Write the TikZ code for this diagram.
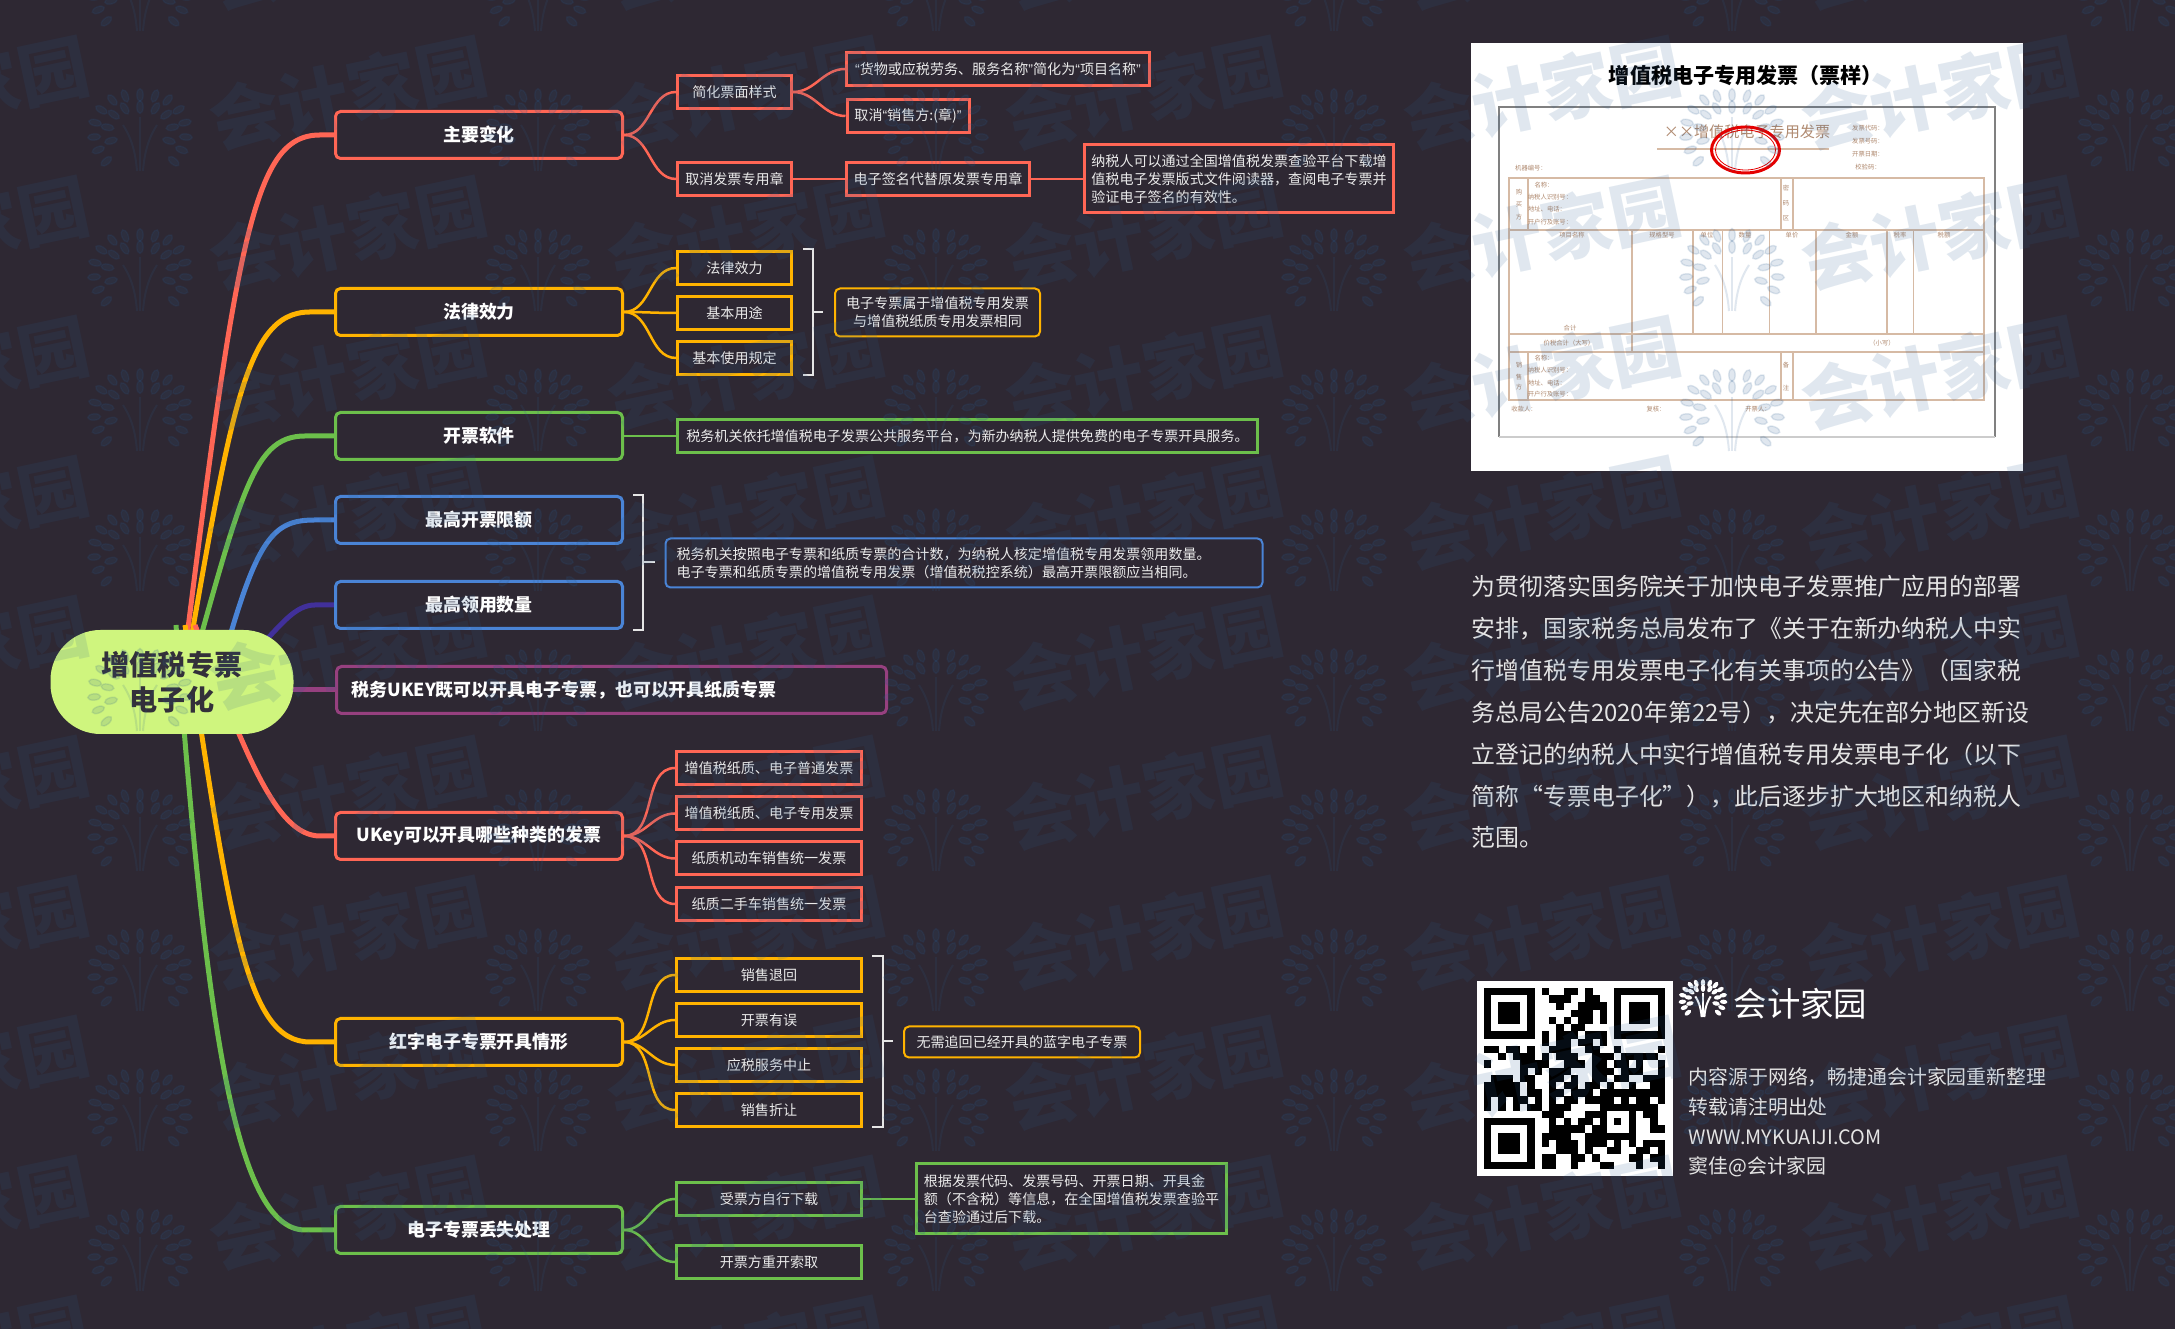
\documentclass[tikz,border=0pt]{standalone}
\usepackage{fontspec}
\setmainfont{Noto Sans CJK SC}
\newfontfamily\quotefont{Liberation Sans}
\usepackage{xcolor}
\usetikzlibrary{backgrounds, positioning, calc}
\definecolor{pagebg}{HTML}{2E2833}
\definecolor{coral}{HTML}{FF6655}
\definecolor{amber}{HTML}{FFB300}
\definecolor{leaf}{HTML}{6CBF4B}
\definecolor{sky}{HTML}{4A84D6}
\definecolor{indigo}{HTML}{41309A}
\definecolor{plum}{HTML}{96407F}
\definecolor{lime}{HTML}{CFF57E}
\definecolor{rootink}{HTML}{33303A}
\definecolor{marine}{HTML}{275A8F}
\definecolor{tan}{HTML}{D6BAA4}
\definecolor{taninkk}{HTML}{B08A70}
\newcommand{\qm}[1]{{\quotefont #1}}
\newcommand{\treemark}[4]{%
  \begin{scope}[shift={(#1,#2)},scale=#3]
    \draw[#4, line width=0.025cm, fill=none] (0,-0.38) -- (0,0.16);
    \draw[#4, line width=0.02cm, fill=none] (-0.03,-0.38) .. controls (-0.05,-0.12) and (-0.12,0) .. (-0.17,0.08);
    \draw[#4, line width=0.02cm, fill=none] (0.03,-0.38) .. controls (0.05,-0.12) and (0.12,0) .. (0.17,0.08);
    \foreach \ang/\rad in {-40/0.44,-22/0.45,-5/0.46,13/0.46,31/0.45,50/0.43,68/0.40,90/0.38,112/0.40,130/0.43,149/0.45,167/0.46,185/0.46,202/0.45,220/0.44,-15/0.30,10/0.33,35/0.32,58/0.29,90/0.26,122/0.29,145/0.32,170/0.33,195/0.30}{
      \fill[#4, shift={(\ang:\rad)}, rotate=\ang] (0,0) ellipse (0.065 and 0.032);
    }
  \end{scope}}

\begin{document}
\begin{tikzpicture}[
  rootbox/.style={
    rectangle, rounded corners=0.5cm, fill=lime, text=rootink,
    minimum width=2.43cm, minimum height=1.04cm, inner sep=0pt,
    font=\fontsize{8}{10}\selectfont\bfseries, align=center
  },
  mainbox/.style={
    rectangle, rounded corners=0.05cm, draw=#1, line width=0.03cm,
    minimum width=2.87cm, minimum height=0.47cm, inner sep=0pt,
    text=white, font=\fontsize{5.1}{6.5}\selectfont\bfseries, align=center
  },
  subbox/.style={
    rectangle, draw=#1, line width=0.03cm,
    minimum width=1.14cm, minimum height=0.33cm, inner sep=0pt,
    text=white!92!black, font=\fontsize{4}{5.2}\selectfont, align=center
  },
  notebox/.style={
    rectangle, rounded corners=0.05cm, draw=#1, line width=0.02cm,
    minimum height=0.31cm, inner sep=0pt,
    text=white!92!black, font=\fontsize{4}{5.2}\selectfont, align=center
  },
  limb/.style={line width=0.05cm, draw=#1},
  twig/.style={line width=0.025cm, draw=#1},
  clasp/.style={line width=0.018cm, draw=white!90!black},
  invlabel/.style={inner sep=0pt, text=taninkk, font=\fontsize{1.8}{2.2}\selectfont},
  invrule/.style={line width=0.012cm, draw=tan},
  footline/.style={inner sep=0pt, anchor=west, text=white!90!black, font=\fontsize{5.65}{7}\selectfont},
  watermark/.style={inner sep=0pt, rotate=12, text=marine, text opacity=0.14, font=\fontsize{20}{20}\selectfont\bfseries},
  wmtree/.style={fill=marine, draw=marine, opacity=0.14},
  logotree/.style={fill=white, draw=white}
]
  \useasboundingbox (0,0) rectangle (21.75,-13.29);

  % central topic and the branches
  \node[rootbox] (root) at (1.72,-6.82) {增值税专票\\电子化};
  \node[mainbox=coral] (mainchange) at (4.79,-1.35) {主要变化};
  \node[mainbox=amber] (mainlaw) at (4.79,-3.12) {法律效力};
  \node[mainbox=leaf] (mainsoft) at (4.79,-4.36) {开票软件};
  \node[mainbox=sky] (mainlimit) at (4.79,-5.20) {最高开票限额};
  \node[mainbox=sky] (mainqty) at (4.79,-6.05) {最高领用数量};
  \node[mainbox=plum, minimum width=5.5cm, align=left, text width=5.2cm] (mainkey) at (6.115,-6.90) {税务UKEY既可以开具电子专票，也可以开具纸质专票};
  \node[mainbox=coral] (mainukey) at (4.79,-8.36) {UKey可以开具哪些种类的发票};
  \node[mainbox=amber] (mainred) at (4.79,-10.42) {红字电子专票开具情形};
  \node[mainbox=leaf] (mainlost) at (4.79,-12.30) {电子专票丢失处理};

  % first branch
  \node[subbox=coral] (simplify) at (7.345,-0.92) {简化票面样式};
  \node[subbox=coral] (noseal) at (7.345,-1.79) {取消发票专用章};
  \node[subbox=coral, minimum width=3.03cm] (goodsname) at (9.98,-0.69) {\qm{“}货物或应税劳务、服务名称\qm{”}简化为\qm{“}项目名称\qm{”}};
  \node[subbox=coral, minimum width=1.22cm] (nochop) at (9.08,-1.16) {取消\qm{“}销售方:(章)\qm{”}};
  \node[subbox=coral, minimum width=1.83cm] (esign) at (9.38,-1.79) {电子签名代替原发票专用章};
  \node[subbox=coral, minimum width=3.09cm, minimum height=0.68cm, align=left] (verify) at (12.39,-1.79) {纳税人可以通过全国增值税发票查验平台下载增\\值税电子发票版式文件阅读器，查阅电子专票并\\验证电子签名的有效性。};

  % second branch
  \node[subbox=amber] (lawforce) at (7.345,-2.68) {法律效力};
  \node[subbox=amber] (lawuse) at (7.345,-3.13) {基本用途};
  \node[subbox=amber] (lawrule) at (7.345,-3.58) {基本使用规定};
  \node[notebox=amber, minimum width=2.05cm, minimum height=0.48cm] (lawnote) at (9.375,-3.125) {电子专票属于增值税专用发票\\与增值税纸质专用发票相同};

  % software and limits
  \node[subbox=leaf, minimum width=5.80cm, align=left] (softnote) at (9.675,-4.36) {税务机关依托增值税电子发票公共服务平台，为新办纳税人提供免费的电子专票开具服务。};
  \node[notebox=sky, minimum width=5.97cm, minimum height=0.49cm, align=left, text width=5.75cm] (limitnote) at (9.64,-5.63) {税务机关按照电子专票和纸质专票的合计数，为纳税人核定增值税专用发票领用数量。\\电子专票和纸质专票的增值税专用发票（增值税税控系统）最高开票限额应当相同。};

  % ukey
  \node[subbox=coral, minimum width=1.85cm] (ukeyone) at (7.69,-7.68) {增值税纸质、电子普通发票};
  \node[subbox=coral, minimum width=1.85cm] (ukeytwo) at (7.69,-8.135) {增值税纸质、电子专用发票};
  \node[subbox=coral, minimum width=1.85cm] (ukeythree) at (7.69,-8.585) {纸质机动车销售统一发票};
  \node[subbox=coral, minimum width=1.85cm] (ukeyfour) at (7.69,-9.04) {纸质二手车销售统一发票};

  % red invoices
  \node[subbox=amber, minimum width=1.85cm] (redone) at (7.69,-9.75) {销售退回};
  \node[subbox=amber, minimum width=1.85cm] (redtwo) at (7.69,-10.20) {开票有误};
  \node[subbox=amber, minimum width=1.85cm] (redthree) at (7.69,-10.65) {应税服务中止};
  \node[subbox=amber, minimum width=1.85cm] (redfour) at (7.69,-11.10) {销售折让};
  \node[notebox=amber, minimum width=2.36cm] (rednote) at (10.22,-10.42) {无需追回已经开具的蓝字电子专票};

  % lost invoices
  \node[subbox=leaf, minimum width=1.85cm] (lostone) at (7.69,-11.99) {受票方自行下载};
  \node[subbox=leaf, minimum width=1.85cm] (losttwo) at (7.69,-12.62) {开票方重开索取};
  \node[subbox=leaf, minimum width=3.10cm, minimum height=0.70cm, align=left] (lostnote) at (10.715,-11.99) {根据发票代码、发票号码、开票日期、开具金\\额（不含税）等信息，在全国增值税发票查验平\\台查验通过后下载。};

  \coordinate (rootup) at (1.76,-7.25);
  \coordinate (rootmid) at (2.15,-6.90);
  \coordinate (rootdown) at (1.76,-6.25);
  \coordinate (rootnear) at (1.85,-6.25);
  \coordinate (rootfar) at (1.95,-6.25);

  \begin{scope}[on background layer]
    \fill[pagebg] (0,0) rectangle (21.75,-13.29);
    \draw[limb=indigo] (root.center) .. controls (2.60,-6.85) and (2.75,-6.05) .. (3.15,-6.05) -- (mainqty.west);
    \draw[limb=sky] (rootmid) .. controls (2.55,-5.40) and (2.70,-5.20) .. (3.15,-5.20) -- (mainlimit.west);
    \draw[limb=leaf] (rootup) .. controls (2.40,-5.00) and (2.50,-4.36) .. (3.05,-4.36) -- (mainsoft.west);
    \draw[limb=amber] (rootup) .. controls (2.30,-4.20) and (2.42,-3.12) .. (3.10,-3.12) -- (mainlaw.west);
    \draw[limb=coral] (rootup) .. controls (2.36,-2.40) and (2.52,-1.35) .. (3.20,-1.35) -- (mainchange.west);
    \draw[limb=plum] (root.center |- mainkey.west) -- (mainkey.west);
    \draw[limb=coral] (rootfar) .. controls (2.45,-7.50) and (2.75,-8.36) .. (3.20,-8.36) -- (mainukey.west);
    \draw[limb=amber] (rootnear) .. controls (2.30,-9.20) and (2.45,-10.42) .. (3.10,-10.42) -- (mainred.west);
    \draw[limb=leaf] (rootdown) .. controls (2.05,-10.20) and (2.35,-12.30) .. (3.05,-12.30) -- (mainlost.west);
  \end{scope}

  \draw[twig=coral] (mainchange.east) to[out=0,in=180] (simplify.west);
  \draw[twig=coral] (mainchange.east) to[out=0,in=180] (noseal.west);
  \draw[twig=coral] (simplify.east) to[out=0,in=180] (goodsname.west);
  \draw[twig=coral] (simplify.east) to[out=0,in=180] (nochop.west);
  \draw[twig=coral] (noseal) -- (esign);
  \draw[twig=coral] (esign) -- (verify);
  \draw[twig=amber] (mainlaw.east) to[out=0,in=180] (lawforce.west);
  \draw[twig=amber] (mainlaw.east) to[out=0,in=180] (lawuse.west);
  \draw[twig=amber] (mainlaw.east) to[out=0,in=180] (lawrule.west);
  \draw[twig=leaf] (mainsoft) -- (softnote);
  \draw[twig=coral] (mainukey.east) to[out=0,in=180] (ukeyone.west);
  \draw[twig=coral] (mainukey.east) to[out=0,in=180] (ukeytwo.west);
  \draw[twig=coral] (mainukey.east) to[out=0,in=180] (ukeythree.west);
  \draw[twig=coral] (mainukey.east) to[out=0,in=180] (ukeyfour.west);
  \draw[twig=amber] (mainred.east) to[out=0,in=180] (redone.west);
  \draw[twig=amber] (mainred.east) to[out=0,in=180] (redtwo.west);
  \draw[twig=amber] (mainred.east) to[out=0,in=180] (redthree.west);
  \draw[twig=amber] (mainred.east) to[out=0,in=180] (redfour.west);
  \draw[twig=leaf] (mainlost.east) to[out=0,in=180] (lostone.west);
  \draw[twig=leaf] (mainlost.east) to[out=0,in=180] (losttwo.west);
  \draw[twig=leaf] (lostone) -- (lostnote);

  % brackets
  \coordinate (lawtop) at (8.03,-2.49);
  \coordinate (lawbot) at (8.03,-3.75);
  \coordinate (lawmid) at (8.13,-3.12);
  \draw[clasp] (lawtop) -- ++(0.10,0) |- (lawbot);
  \draw[clasp] (lawmid) -- ++(0.10,0);
  \coordinate (limittop) at (6.33,-4.95);
  \coordinate (limitbot) at (6.33,-6.30);
  \coordinate (limitmid) at (6.43,-5.62);
  \draw[clasp] (limittop) -- ++(0.10,0) |- (limitbot);
  \draw[clasp] (limitmid) -- ++(0.12,0);
  \coordinate (redtop) at (8.72,-9.56);
  \coordinate (redbot) at (8.72,-11.27);
  \coordinate (redmid) at (8.83,-10.41);
  \draw[clasp] (redtop) -- ++(0.11,0) |- (redbot);
  \draw[clasp] (redmid) -- ++(0.10,0);

  % invoice sample
  \fill[white] (14.71,-0.43) rectangle (20.23,-4.71);
  \node[inner sep=0pt, text=black, font=\fontsize{6}{7}\selectfont\bfseries] (invtitle) at (17.46,-0.76) {增值税电子专用发票（票样）};
  \draw[gray, line width=0.012cm] (14.99,-4.37) -- (14.99,-1.07) -- (19.95,-1.07) -- (19.95,-4.37);
  \draw[gray!40, line width=0.012cm] (14.99,-4.37) -- (19.95,-4.37);
  \node[inner sep=0pt, text=taninkk, font=\fontsize{4.3}{5}\selectfont] (invhead) at (17.47,-1.32) {××增值税电子专用发票};
  \draw[tan, line width=0.02cm] (16.57,-1.49) -- (18.29,-1.49);
  \draw[invrule] (15.09,-1.78) rectangle (19.84,-4.00);
  \draw[invrule] (15.09,-2.30) -- (19.84,-2.30);
  \draw[invrule] (15.09,-3.34) -- (19.84,-3.34);
  \draw[invrule] (15.09,-3.52) -- (19.84,-3.52);
  \foreach \vx/\vtop/\vbot in {15.28/1.78/2.30,17.81/1.78/2.30,17.93/1.78/2.30,15.28/3.52/4.00,17.81/3.52/4.00,17.93/3.52/4.00,16.32/2.30/3.52,16.93/2.30/3.34,17.225/2.30/3.34,17.695/2.30/3.34,18.16/2.30/3.34,18.87/2.30/3.34,19.135/2.30/3.34}{
    \draw[invrule] (\vx,-\vtop) -- (\vx,-\vbot);
  }
  \foreach \tagname/\lx/\ly/\txt in {
    code/18.68/1.28/发票代码：, number/18.68/1.41/发票号码：, date/18.68/1.54/开票日期：, check/18.68/1.67/校验码：,
    machine/15.31/1.68/机器编号：,
    buya/15.19/1.92/购, buyb/15.19/2.04/买, buyc/15.19/2.17/方,
    bname/15.44/1.85/名称：, bid/15.50/1.97/纳税人识别号：, baddr/15.47/2.09/地址、电话：, bbank/15.50/2.22/开户行及账号：,
    pwa/17.86/1.88/密, pwb/17.86/2.03/码, pwc/17.86/2.18/区,
    item/15.72/2.35/项目名称, spec/16.62/2.35/规格型号, unit/17.07/2.35/单位, qty/17.45/2.35/数量, price/17.92/2.35/单价, amount/18.52/2.35/金额, rate/19.00/2.35/税率, tax/19.44/2.35/税额,
    total/15.70/3.28/合计, sum/15.69/3.43/价税合计（大写）, small/18.82/3.43/（小写）,
    sella/15.19/3.65/销, sellb/15.19/3.77/售, sellc/15.19/3.87/方,
    sname/15.44/3.58/名称：, sid/15.50/3.70/纳税人识别号：, saddr/15.47/3.83/地址、电话：, sbank/15.50/3.94/开户行及账号：,
    notea/17.86/3.65/备, noteb/17.86/3.88/注,
    payee/15.24/4.09/收款人：, review/16.56/4.09/复核：, drawer/17.58/4.09/开票人：}{
    \node[invlabel] (inv\tagname) at (\lx,-\ly) {\txt};
  }
  \draw[red!90!black, line width=0.03cm] (17.455,-1.50) ellipse (0.34 and 0.23);
  \draw[red!90!black, line width=0.008cm] (17.455,-1.50) ellipse (0.30 and 0.20);

  % text on the right
  \node[inner sep=0pt, anchor=north west, align=left, text=white!90!black, font=\fontsize{6.8}{11.9}\selectfont] (intro) at (14.71,-5.75) {为贯彻落实国务院关于加快电子发票推广应用的部署\\安排，国家税务总局发布了《关于在新办纳税人中实\\行增值税专用发票电子化有关事项的公告》（国家税\\务总局公告2020年第22号），决定先在部分地区新设\\立登记的纳税人中实行增值税专用发票电子化（以下\\简称“专票电子化”），此后逐步扩大地区和纳税人\\范围。};

  % code and logo
  \fill[white] (14.77,-9.81) rectangle (16.73,-11.76);
  \foreach \fx/\fy in {0/0,18/0,0/18}{
    \begin{scope}[shift={({14.84+\fx*0.0723},{-9.88-\fy*0.0723})}]
      \fill[black] (0,0) rectangle (0.506,-0.506);
      \fill[white] (0.0723,-0.0723) rectangle (0.434,-0.434);
      \fill[black] (0.1446,-0.1446) rectangle (0.3615,-0.3615);
    \end{scope}
  }
  \foreach \row/\cols in {0/{8,11,12,14},1/{9,10,11,14,15},2/{10,13,14,15,16},3/{12,13,14,16},4/{9,11,13,14,16},5/{10,12,13},6/{8,10,11,12,14,15,16},7/{8,10,11,13,14,16},
    8/{0,1,3,4,6,9,10,11,14,15,18,24},9/{2,4,5,6,8,10,11,12,15,16,17,19,20,21,22,23},10/{0,5,6,7,8,11,12,13,15,16,18,19,21,24},11/{5,7,9,10,11,15,16,17,19,20,21,24},12/{1,2,3,5,6,9,10,12,15,16,18,19,22,23,24},13/{0,1,2,3,4,6,9,11,12,14,15,17,20,23,24},14/{0,1,2,3,4,6,7,9,10,12,13,14,16,17,18,19,20,21,22,23,24},15/{0,2,4,5,7,9,11,12,14,15,16,17,19,21,22,24},16/{0,2,4,6,7,9,10,11,16,17,18,19,20,21,22,23},
    17/{8,9,10,14,15,16,20,22,23},18/{9,11,13,14,16,18,20,23},19/{9,10,11,12,13,15,16,20,23,24},20/{8,9,10,11,14,15,16,17,18,19,20},21/{8,10,11,12,14,15,16,18,20,22,23,24},22/{10,11,12,14,17,18,21,22,24},23/{8,9,12,13,15,20,21,23,24},24/{8,9,12,16,17,21,24}}{
    \foreach \col in \cols {
      \fill[black] ({14.84+\col*0.0723},{-9.88-\row*0.0723}) rectangle ++(0.0735,-0.0735);
    }
  }
  \treemark{17.03}{-10.00}{0.45}{logotree}
  \node[inner sep=0pt, anchor=west, text=white, font=\fontsize{9.5}{10}\selectfont] (logoword) at (17.33,-10.04) {会计家园};
  \node[footline] (foota) at (16.88,-10.77) {内容源于网络，畅捷通会计家园重新整理};
  \node[footline] (footb) at (16.88,-11.07) {转载请注明出处};
  \node[footline] (footc) at (16.88,-11.37) {WWW.MYKUAIJI.COM};
  \node[footline] (footd) at (16.88,-11.67) {窦佳@会计家园};

  % faint tiled mark over everything
  \begin{scope}
    \clip (0,0) rectangle (21.75,-13.29);
    \foreach \tx in {-1,...,5}{
      \foreach \ty in {-1,...,9}{
        \node[watermark] (wm\tx x\ty) at ({1.40+3.98*\tx+2.08},{-1.33-1.40*\ty+0.40}) {会计家园};
        \treemark{1.40+3.98*\tx}{-1.33-1.40*\ty}{1}{wmtree}
      }
    }
  \end{scope}
\end{tikzpicture}
\end{document}
